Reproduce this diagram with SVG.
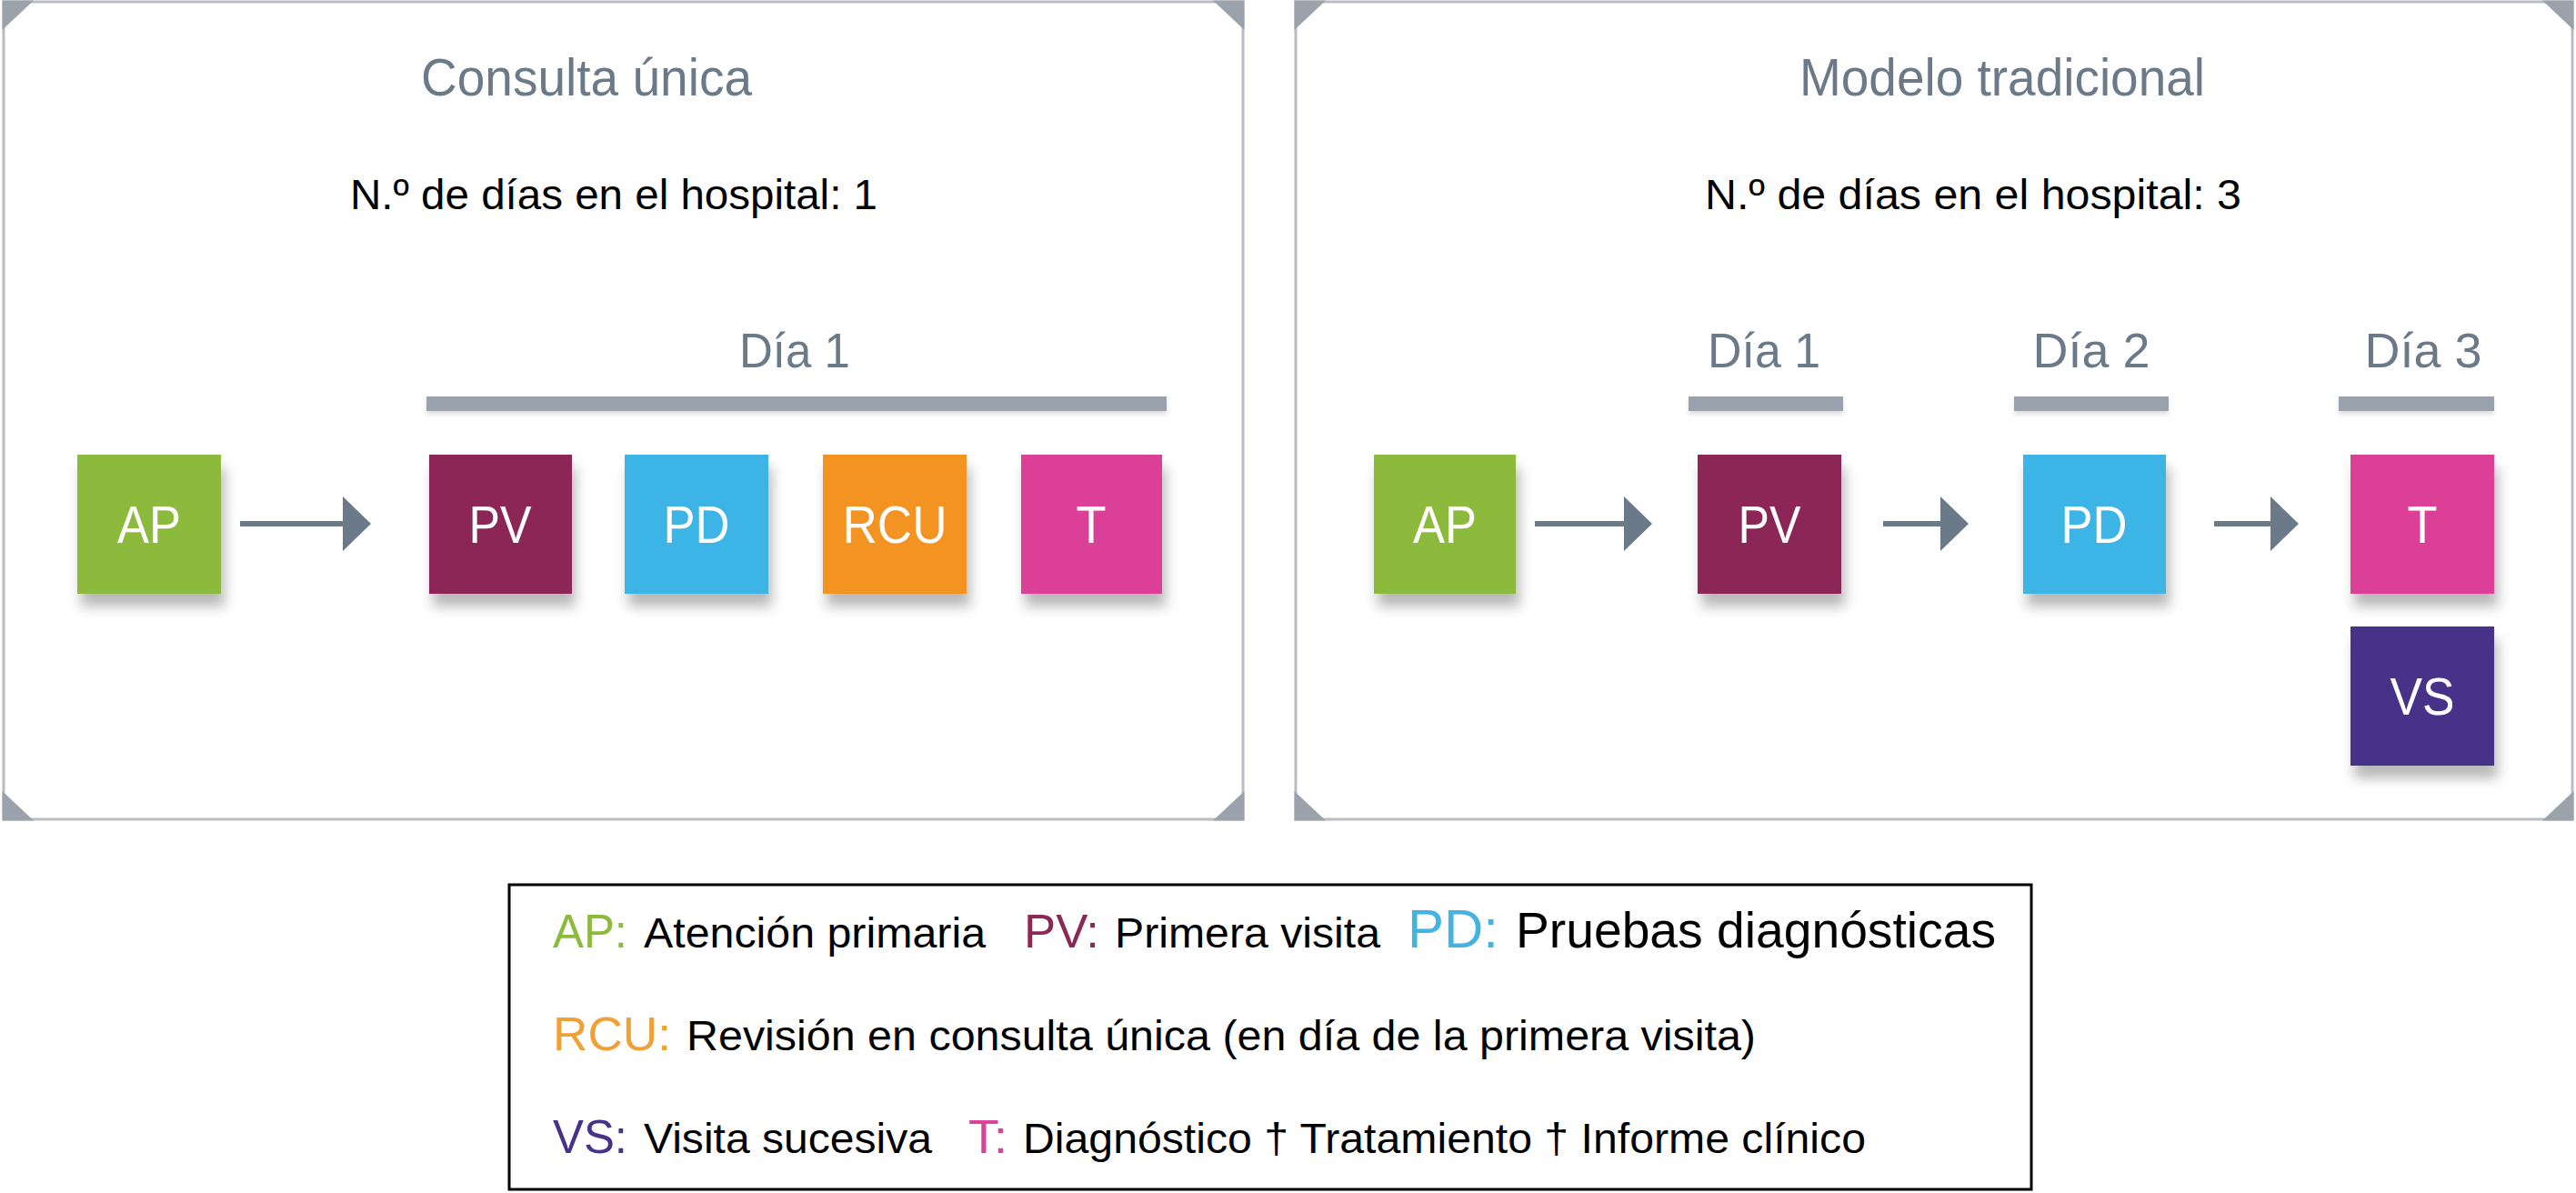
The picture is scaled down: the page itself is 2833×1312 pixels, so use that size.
<svg xmlns="http://www.w3.org/2000/svg" width="2833" height="1312" viewBox="0 0 2833 1312">
<style>
.panel{fill:#fff;stroke:#b9bdc3;stroke-width:3}
.corner{fill:#9aa2ac}
.title{font-family:"Liberation Sans",Arial,sans-serif;font-size:58px;fill:#6b7a88}
.count{font-family:"Liberation Sans",Arial,sans-serif;font-size:46px;fill:#000}
.day{font-family:"Liberation Sans",Arial,sans-serif;font-size:54px;fill:#6b7a88;text-anchor:middle}
.bar{fill:#9aa3ad}
.box text{font-family:"Liberation Sans",Arial,sans-serif;font-size:58px;fill:#fff;text-anchor:middle}
.conn{stroke:#6b7a88;stroke-width:6;fill:none}
.lg{font-family:"Liberation Sans",Arial,sans-serif;font-size:47px;fill:#000}
.lk{font-size:52px}
</style>
<defs>
<filter id="sh" x="-30%" y="-30%" width="160%" height="170%">
<feDropShadow dx="4" dy="14" stdDeviation="7" flood-color="#000" flood-opacity="0.28"/>
</filter>
<filter id="shb" x="-5%" y="-50%" width="110%" height="250%">
<feDropShadow dx="0" dy="4" stdDeviation="2" flood-color="#000" flood-opacity="0.12"/>
</filter>
<marker id="ah" markerWidth="31" markerHeight="60" refX="0" refY="30" orient="auto" markerUnits="userSpaceOnUse" viewBox="0 0 31 60">
<path d="M0,0 L31,30 L0,60 Z" fill="#6b7a88"/>
</marker>
</defs>
<rect width="2833" height="1312" fill="#fff"/>

<!-- Left panel -->
<g id="panel-left">
<rect class="panel" x="4" y="2" width="1363" height="899"/>
<polygon class="corner" points="2.5,0.5 37,0.5 2.5,33"/>
<polygon class="corner" points="1368.5,0.5 1334,0.5 1368.5,33"/>
<polygon class="corner" points="2.5,902.5 37,902.5 2.5,870"/>
<polygon class="corner" points="1368.5,902.5 1334,902.5 1368.5,870"/>
<text class="title" x="463" y="105" textLength="364" lengthAdjust="spacingAndGlyphs">Consulta única</text>
<text class="count" x="385" y="230" textLength="580" lengthAdjust="spacingAndGlyphs">N.º de días en el hospital: 1</text>
</g>

<!-- Right panel -->
<g id="panel-right">
<rect class="panel" x="1425" y="2" width="1404" height="899"/>
<polygon class="corner" points="1423.5,0.5 1458,0.5 1423.5,33"/>
<polygon class="corner" points="2830.5,0.5 2796,0.5 2830.5,33"/>
<polygon class="corner" points="1423.5,902.5 1458,902.5 1423.5,870"/>
<polygon class="corner" points="2830.5,902.5 2796,902.5 2830.5,870"/>
<text class="title" x="1979" y="105" textLength="446" lengthAdjust="spacingAndGlyphs">Modelo tradicional</text>
<text class="count" x="1875" y="230" textLength="590" lengthAdjust="spacingAndGlyphs">N.º de días en el hospital: 3</text>
</g>

<!-- Day headers -->
<g id="day1-left">
<text class="day" x="874" y="404" textLength="122" lengthAdjust="spacingAndGlyphs">Día 1</text>
<rect class="bar" x="469" y="436" width="814" height="16" filter="url(#shb)"/>
</g>
<g id="day1-right">
<text class="day" x="1940" y="404" textLength="124" lengthAdjust="spacingAndGlyphs">Día 1</text>
<rect class="bar" x="1857" y="436" width="170" height="16" filter="url(#shb)"/>
</g>
<g id="day2-right">
<text class="day" x="2300" y="404" textLength="129" lengthAdjust="spacingAndGlyphs">Día 2</text>
<rect class="bar" x="2215" y="436" width="170" height="16" filter="url(#shb)"/>
</g>
<g id="day3-right">
<text class="day" x="2665" y="404" textLength="129" lengthAdjust="spacingAndGlyphs">Día 3</text>
<rect class="bar" x="2572" y="436" width="171" height="16" filter="url(#shb)"/>
</g>

<!-- Left nodes -->
<g id="left-AP" class="box"><rect x="85" y="500" width="158" height="153" fill="#8cba3d" filter="url(#sh)"/><text x="164" y="597" textLength="70" lengthAdjust="spacingAndGlyphs">AP</text></g>
<g id="left-PV" class="box"><rect x="472" y="500" width="157" height="153" fill="#8c2856" filter="url(#sh)"/><text x="550" y="597" textLength="69" lengthAdjust="spacingAndGlyphs">PV</text></g>
<g id="left-PD" class="box"><rect x="687" y="500" width="158" height="153" fill="#3db4e6" filter="url(#sh)"/><text x="766" y="597" textLength="73" lengthAdjust="spacingAndGlyphs">PD</text></g>
<g id="left-RCU" class="box"><rect x="905" y="500" width="158" height="153" fill="#f39421" filter="url(#sh)"/><text x="984" y="597" textLength="115" lengthAdjust="spacingAndGlyphs">RCU</text></g>
<g id="left-T" class="box"><rect x="1123" y="500" width="155" height="153" fill="#db3f96" filter="url(#sh)"/><text x="1200" y="597" textLength="33" lengthAdjust="spacingAndGlyphs">T</text></g>

<!-- Right nodes -->
<g id="right-AP" class="box"><rect x="1511" y="500" width="156" height="153" fill="#8cba3d" filter="url(#sh)"/><text x="1589" y="597" textLength="70" lengthAdjust="spacingAndGlyphs">AP</text></g>
<g id="right-PV" class="box"><rect x="1867" y="500" width="158" height="153" fill="#8c2856" filter="url(#sh)"/><text x="1946" y="597" textLength="69" lengthAdjust="spacingAndGlyphs">PV</text></g>
<g id="right-PD" class="box"><rect x="2225" y="500" width="157" height="153" fill="#3db4e6" filter="url(#sh)"/><text x="2303" y="597" textLength="73" lengthAdjust="spacingAndGlyphs">PD</text></g>
<g id="right-T" class="box"><rect x="2585" y="500" width="158" height="153" fill="#db3f96" filter="url(#sh)"/><text x="2664" y="597" textLength="33" lengthAdjust="spacingAndGlyphs">T</text></g>
<g id="right-VS" class="box"><rect x="2585" y="689" width="158" height="153" fill="#47308a" filter="url(#sh)"/><text x="2664" y="786" textLength="71" lengthAdjust="spacingAndGlyphs">VS</text></g>

<!-- Connectors -->
<g id="connectors">
<line class="conn" x1="264" y1="576" x2="377" y2="576" marker-end="url(#ah)"/>
<line class="conn" x1="1688" y1="576" x2="1786" y2="576" marker-end="url(#ah)"/>
<line class="conn" x1="2071" y1="576" x2="2134" y2="576" marker-end="url(#ah)"/>
<line class="conn" x1="2435" y1="576" x2="2497" y2="576" marker-end="url(#ah)"/>
</g>

<!-- Legend -->
<g id="legend">
<rect x="560" y="973" width="1674" height="335" fill="#fff" stroke="#000" stroke-width="3"/>
<text class="lg" y="1042"><tspan class="lk" x="608" fill="#8cba3d" textLength="82" lengthAdjust="spacingAndGlyphs">AP:</tspan><tspan x="708" textLength="376" lengthAdjust="spacingAndGlyphs">Atención primaria</tspan><tspan class="lk" x="1126" fill="#8c2856" textLength="83" lengthAdjust="spacingAndGlyphs">PV:</tspan><tspan x="1226" textLength="292" lengthAdjust="spacingAndGlyphs">Primera visita</tspan><tspan x="1548" fill="#44b3e1" style="font-size:60px" textLength="100" lengthAdjust="spacingAndGlyphs">PD:</tspan><tspan x="1667" style="font-size:55px" textLength="528" lengthAdjust="spacingAndGlyphs">Pruebas diagnósticas</tspan></text>
<text class="lg" y="1155"><tspan class="lk" x="608" fill="#f0a035" textLength="130" lengthAdjust="spacingAndGlyphs">RCU:</tspan><tspan x="755" textLength="1176" lengthAdjust="spacingAndGlyphs">Revisión en consulta única (en día de la primera visita)</tspan></text>
<text class="lg" y="1268"><tspan class="lk" x="608" fill="#48318a" textLength="82" lengthAdjust="spacingAndGlyphs">VS:</tspan><tspan x="708" textLength="317" lengthAdjust="spacingAndGlyphs">Visita sucesiva</tspan><tspan class="lk" x="1065" fill="#d9449a" textLength="43" lengthAdjust="spacingAndGlyphs">T:</tspan><tspan x="1125" textLength="927" lengthAdjust="spacingAndGlyphs">Diagnóstico † Tratamiento † Informe clínico</tspan></text>
</g>
</svg>
